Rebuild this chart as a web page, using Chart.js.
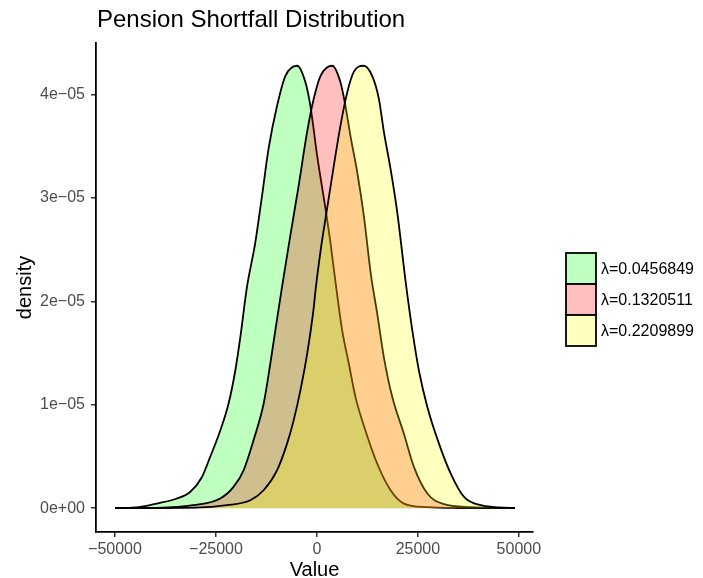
<!DOCTYPE html>
<html>
<head>
<meta charset="utf-8">
<title>Pension Shortfall Distribution</title>
<script src="https://cdn.jsdelivr.net/npm/chart.js@4.4.1/dist/chart.umd.min.js"></script>
<style>
  html, body { margin: 0; padding: 0; background: #fff; }
  #wrap { width: 703px; height: 578px; }
</style>
</head>
<body>
<div id="wrap"><canvas id="densityChart" width="703" height="578"></canvas></div>
<script>
// density curves per lambda
const lambdas = ['0.0456849', '0.1320511', '0.2209899'];

const greenX = [-50000, -44000, -39650, -34690, -31390, -28490, -26430, -23950, -21890, -20220,
  -18980, -17320, -15260, -13600, -11960, -9880, -7820, -4910, -2850, -1610,
  50, 2110, 3350, 4590, 6250, 7890, 9550, 12030, 14940, 18240, 21540, 27340, 35000, 49000];
const greenY = [0, 1e-7, 4.5e-7, 9.4e-7, 1.57e-6, 3.0e-6, 4.96e-6, 7.5e-6, 1.01e-5, 1.33e-5,
  1.65e-5, 2.14e-5, 2.57e-5, 3.02e-5, 3.48e-5, 3.89e-5, 4.18e-5, 4.28e-5, 4.12e-5, 3.89e-5,
  3.41e-5, 2.90e-5, 2.57e-5, 2.19e-5, 1.72e-5, 1.40e-5, 1.075e-5, 7.5e-6, 4.3e-6, 1.74e-6, 4.5e-7, 1e-7, 2e-8, 0];

const redX = [-50000, -38000, -30570, -23950, -20650, -18160, -15680, -13200, -11540, -10300,
  -8640, -6580, -4520, -2430, -790, 870, 3770, 5830, 7070, 8310,
  9980, 11610, 13400, 14940, 16580, 18660, 21540, 24020, 27340, 31460, 38090, 49000];
const redY = [0, 5e-8, 2.9e-7, 9.4e-7, 2.06e-6, 3.67e-6, 6.6e-6, 1.01e-5, 1.40e-5, 1.72e-5,
  2.14e-5, 2.64e-5, 3.12e-5, 3.64e-5, 3.96e-5, 4.18e-5, 4.28e-5, 4.12e-5, 3.89e-5, 3.60e-5,
  3.25e-5, 2.83e-5, 2.25e-5, 1.88e-5, 1.46e-5, 1.075e-5, 7.2e-6, 4.0e-6, 1.42e-6, 3.9e-7, 1e-7, 0];

const yellowX = [-50000, -30000, -22280, -16500, -13200, -9880, -7390, -5760, -4090, -2430,
  -790, -370, 870, 2530, 4170, 5830, 7490, 9130, 11610, 13700,
  15340, 16580, 18240, 19900, 22000, 23620, 25260, 27340, 30220, 33130, 36430, 40570, 49000];
const yellowY = [0, 5e-8, 2.9e-7, 7.7e-7, 1.74e-6, 3.67e-6, 6.25e-6, 8.5e-6, 1.14e-5, 1.49e-5,
  1.94e-5, 2.10e-5, 2.48e-5, 2.90e-5, 3.31e-5, 3.70e-5, 4.02e-5, 4.22e-5, 4.28e-5, 4.18e-5,
  3.96e-5, 3.64e-5, 3.28e-5, 2.86e-5, 2.18e-5, 1.72e-5, 1.33e-5, 9.8e-6, 6.25e-6, 3.35e-6, 1.09e-6, 2.9e-7, 0];

const xTicks = [-50000, -25000, 0, 25000, 50000];
const xTickLabels = ['\u221250000', '\u221225000', '0', '25000', '50000'];
const yTicks = [0, 1e-5, 2e-5, 3e-5, 4e-5];
const yTickLabels = ['0e+00', '1e\u221205', '2e\u221205', '3e\u221205', '4e\u221205'];

const FONT = '"Liberation Sans", Arial, Helvetica, sans-serif';
Chart.defaults.font.family = FONT;

function toPoints(xs, ys) {
  return xs.map((x, i) => ({ x: x, y: ys[i] }));
}

function curve(label, xs, ys, fillColor, order) {
  return {
    label: label,
    data: toPoints(xs, ys),
    backgroundColor: fillColor,
    borderColor: '#000000',
    borderWidth: 1.8,
    fill: 'origin',
    pointRadius: 0,
    cubicInterpolationMode: 'monotone',
    order: order
  };
}

// タイトル（左寄せ）
const titlePlugin = {
  id: 'ggTitle',
  afterDraw(chart) {
    const c = chart.ctx;
    c.save();
    c.font = '24px ' + FONT;
    c.fillStyle = '#000';
    c.textBaseline = 'alphabetic';
    c.textAlign = 'left';
    c.fillText('Pension Shortfall Distribution', chart.chartArea.left + 1, 27);
    c.restore();
  }
};

// 凡例（枠付きの色キー）
const legendPlugin = {
  id: 'ggLegend',
  afterDraw(chart) {
    const c = chart.ctx;
    const x = chart.chartArea.right + 33;
    const w = 30, h = 31;
    let y = 253;
    c.save();
    chart.data.datasets.forEach(ds => {
      c.fillStyle = '#fff';
      c.fillRect(x, y, w, h);
      c.fillStyle = ds.backgroundColor;
      c.fillRect(x, y, w, h);
      c.strokeStyle = '#000';
      c.lineWidth = 1.8;
      c.strokeRect(x, y, w, h);
      c.fillStyle = '#000';
      c.font = '16px ' + FONT;
      c.textAlign = 'left';
      c.textBaseline = 'middle';
      c.fillText(ds.label, x + w + 5, y + h / 2 + 1);
      y += h;
    });
    c.restore();
  }
};

new Chart(document.getElementById('densityChart'), {
  type: 'line',
  data: {
    datasets: [
      curve('\u03bb=' + lambdas[0], greenX, greenY, 'rgba(0, 255, 0, 0.25)', 3),
      curve('\u03bb=' + lambdas[1], redX, redY, 'rgba(255, 0, 0, 0.25)', 2),
      curve('\u03bb=' + lambdas[2], yellowX, yellowY, 'rgba(255, 255, 0, 0.25)', 1)
    ]
  },
  options: {
    responsive: false,
    animation: false,
    layout: { padding: { left: 0, top: 43, right: 170, bottom: 0 } },
    plugins: {
      legend: { display: false },
      tooltip: { enabled: false }
    },
    scales: {
      x: {
        type: 'linear',
        min: -54700,
        max: 53500,
        afterFit: s => { s.height = 46; },
        afterBuildTicks: s => { s.ticks = xTicks.map(v => ({ value: v })); },
        grid: { display: true, drawOnChartArea: false, drawTicks: true, tickLength: 5, color: '#333333', lineWidth: 1.5 },
        border: { display: true, color: '#000000', width: 1.8 },
        ticks: {
          padding: 3,
          color: '#4D4D4D',
          font: { size: 16 },
          maxRotation: 0,
          autoSkip: false,
          callback: (val, i) => xTickLabels[i]
        },
        title: {
          display: true,
          text: 'Value',
          color: '#000',
          font: { size: 20 },
          padding: { top: 0, bottom: -4 }
        }
      },
      y: {
        type: 'linear',
        min: -2.3e-6,
        max: 4.5e-5,
        afterFit: s => { s.width = 96; },
        afterBuildTicks: s => { s.ticks = yTicks.map(v => ({ value: v })); },
        grid: { display: true, drawOnChartArea: false, drawTicks: true, tickLength: 5, color: '#333333', lineWidth: 1.5 },
        border: { display: true, color: '#000000', width: 1.8 },
        ticks: {
          padding: 6,
          color: '#4D4D4D',
          font: { size: 16 },
          autoSkip: false,
          callback: (val, i) => yTickLabels[i]
        },
        title: {
          display: true,
          text: 'density',
          color: '#000',
          font: { size: 20 },
          padding: { top: 13, bottom: 0 }
        }
      }
    }
  },
  plugins: [titlePlugin, legendPlugin]
});
</script>
</body>
</html>
